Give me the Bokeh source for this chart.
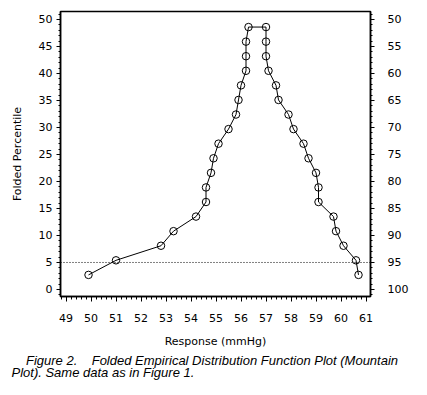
from bokeh.plotting import figure
from bokeh.models import Range1d, LinearAxis, SingleIntervalTicker, Span, Title
from bokeh.embed import file_html
from bokeh.resources import INLINE

# Response values (mmHg), sorted ascending
response = [49.9, 51.0, 52.8, 53.3, 54.2, 54.6, 54.6, 54.8, 54.9,
            55.1, 55.5, 55.8, 55.9, 56.0, 56.2, 56.2, 56.2, 56.3,
            57.0, 57.0, 57.0, 57.1, 57.4, 57.5, 57.9, 58.1, 58.5,
            58.7, 59.0, 59.1, 59.1, 59.7, 59.8, 60.1, 60.6, 60.7]
# Folded percentile of each response
folded_pct = [2.7, 5.4, 8.1, 10.8, 13.5, 16.2, 18.9, 21.6, 24.3,
              27.0, 29.7, 32.4, 35.1, 37.8, 40.5, 43.2, 45.9, 48.6,
              48.6, 45.9, 43.2, 40.5, 37.8, 35.1, 32.4, 29.7, 27.0,
              24.3, 21.6, 18.9, 16.2, 13.5, 10.8, 8.1, 5.4, 2.7]
ref_level = 5
x_label = "Response (mmHg)"
y_label = "Folded Percentile"
caption1 = "\u00a0\u00a0\u00a0\u00a0Figure 2.\u00a0\u00a0\u00a0 Folded Empirical Distribution Function Plot (Mountain"
caption2 = "Plot). Same data as in Figure 1."

FONT = "DejaVu Sans"

p = figure(width=419, height=387, output_backend="svg", toolbar_location=None,
           x_range=Range1d(48.78, 61.18), y_range=Range1d(-1.3, 51.48),
           min_border_left=60, min_border_right=49, min_border_top=11,
           min_border_bottom=91)
p.xgrid.visible = False
p.ygrid.visible = False
p.outline_line_color = "black"
p.outline_line_width = 1.5
p.background_fill_color = "white"
p.border_fill_color = "white"

p.extra_y_ranges = {"right": Range1d(start=101.3, end=48.52)}

# axes styling
p.xaxis.ticker = SingleIntervalTicker(interval=1, num_minor_ticks=5)
p.yaxis.ticker = SingleIntervalTicker(interval=5, num_minor_ticks=5)
p.xaxis.axis_label = x_label
p.yaxis.axis_label = y_label

for ax in (p.xaxis[0], p.yaxis[0]):
    ax.axis_line_width = 1.5
    ax.axis_line_color = "black"
    ax.major_tick_line_color = "black"
    ax.minor_tick_line_color = "black"
    ax.major_tick_in = 0
    ax.minor_tick_in = 0
    ax.major_label_text_font = FONT
    ax.major_label_text_font_size = "11px"
    ax.major_label_text_color = "black"
    ax.axis_label_text_font = FONT
    ax.axis_label_text_font_size = "11px"
    ax.axis_label_text_font_style = "normal"
    ax.axis_label_text_color = "black"

p.xaxis.major_tick_out = 5
p.xaxis.minor_tick_out = 3
p.xaxis.major_label_standoff = 12
p.xaxis.axis_label_standoff = 10

p.yaxis.major_tick_out = 4
p.yaxis.minor_tick_out = 2
p.yaxis.major_label_standoff = 4
p.yaxis.axis_label_standoff = 12

right = LinearAxis(y_range_name="right",
                   ticker=SingleIntervalTicker(interval=5, num_minor_ticks=5))
right.axis_line_width = 1.5
right.major_tick_in = 0
right.minor_tick_in = 0
right.major_tick_out = 4
right.minor_tick_out = 2
right.major_label_standoff = 13
right.major_label_text_font = FONT
right.major_label_text_font_size = "11px"
right.major_label_text_color = "black"
p.add_layout(right, "right")

# reference line at 5th percentile
p.add_layout(Span(location=ref_level, dimension="width", line_color="black",
                  line_width=1, line_dash="1 2"))

p.line(response, folded_pct, line_color="black", line_width=1)
p.scatter(response, folded_pct, marker="circle", size=7.5, fill_alpha=0,
          line_color="black", line_width=1)

# two-line caption below the axis
p.add_layout(Title(text=caption1 + "\n" + caption2, align="left", offset=-49,
                   standoff=0, text_line_height=0.8,
                   text_font="Liberation Sans", text_font_size="13px",
                   text_font_style="italic", text_color="black"), "below")

open("out.html", "w").write(file_html(p, INLINE))
